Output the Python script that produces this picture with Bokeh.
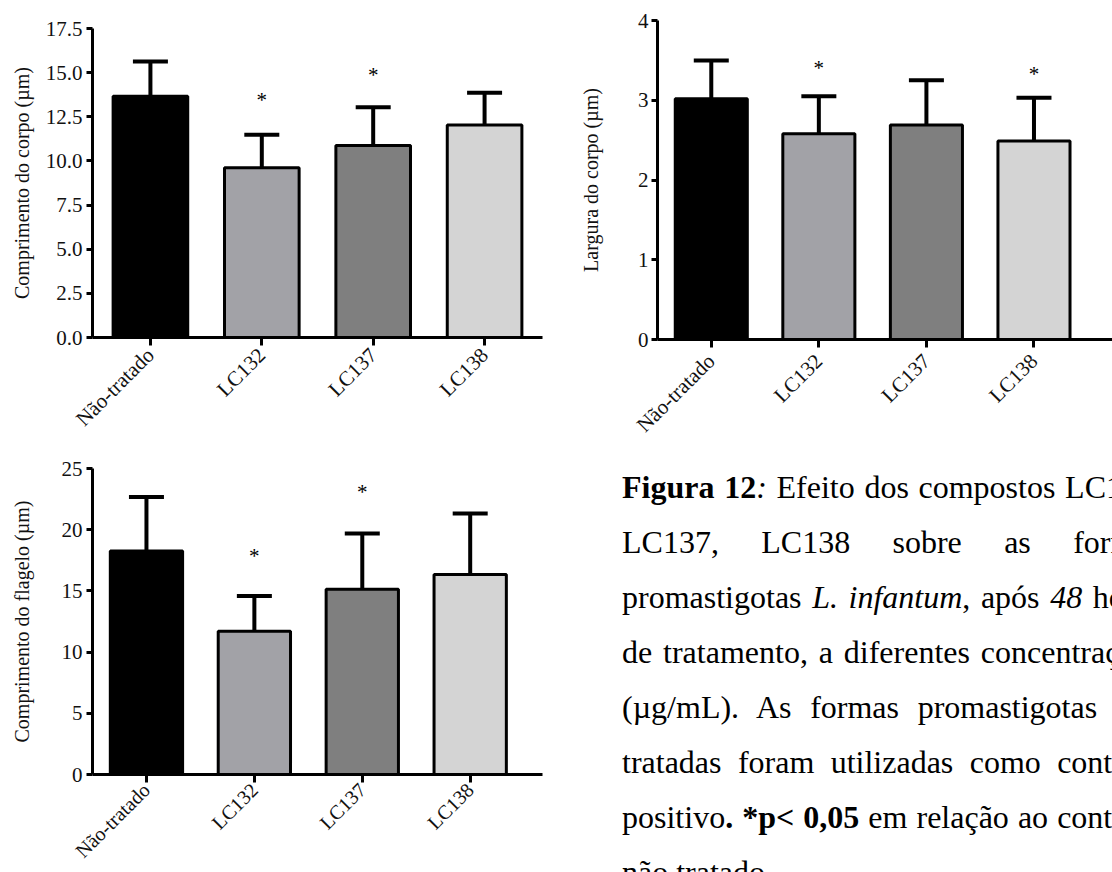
import math
from bokeh.plotting import figure
from bokeh.models import (ColumnDataSource, Range1d, FixedTicker, Whisker, TeeHead,
                          Div, NumeralTickFormatter)
from bokeh.layouts import row, column
from bokeh.embed import file_html
from bokeh.resources import INLINE
from bokeh.core.properties import value

# ---------------- data ----------------
categories = ["Não-tratado", "LC132", "LC137", "LC138"]
bar_colors = ["#000000", "#a2a2a7", "#7f7f7f", "#d4d4d4"]

# Comprimento do corpo (µm)
corpo_mean = [13.66, 9.61, 10.87, 12.04]
corpo_sd = [1.97, 1.87, 2.17, 1.82]
corpo_sig = ["LC132", "LC137"]
corpo_sig_y = [13.7, 15.1]
corpo_ticks = [0, 2.5, 5, 7.5, 10, 12.5, 15, 17.5]

# Largura do corpo (µm)
largura_mean = [3.02, 2.58, 2.69, 2.49]
largura_sd = [0.48, 0.47, 0.56, 0.54]
largura_sig = ["LC132", "LC138"]
largura_sig_y = [3.46, 3.38]
largura_ticks = [0, 1, 2, 3, 4]

# Comprimento do flagelo (µm)
flagelo_mean = [18.27, 11.71, 15.14, 16.34]
flagelo_sd = [4.41, 2.88, 4.55, 4.98]
flagelo_sig = ["LC132", "LC137"]
flagelo_sig_y = [18.2, 23.4]
flagelo_ticks = [0, 5, 10, 15, 20, 25]

FONT = "Liberation Serif"


def make_chart(means, sds, sig_cats, sig_y, ticks, fmt, ylabel, x_start, x_end,
               width, height, bl, br, bt, bb, label_standoff, ylab_standoff,
               xlab_standoff, xlab_size):
    xs = [i + 0.5 for i in range(len(categories))]
    src = ColumnDataSource(dict(
        x=xs, mean=means, upper=[m + s for m, s in zip(means, sds)], color=bar_colors))
    p = figure(width=width, height=height, output_backend="svg", toolbar_location=None,
               x_range=Range1d(x_start, x_end), y_range=Range1d(0, ticks[-1]),
               min_border_left=bl, min_border_right=br, min_border_top=bt,
               min_border_bottom=bb)
    p.outline_line_color = None
    p.xgrid.visible = False
    p.ygrid.visible = False
    p.background_fill_color = "white"
    p.border_fill_color = "white"

    p.vbar(x="x", top="mean", bottom=0, width=0.67, fill_color="color",
           line_color="black", line_width=3, source=src)
    wh = Whisker(base="x", lower="mean", upper="upper", source=src,
                 line_color="black", line_width=4, lower_head=None,
                 upper_head=TeeHead(size=35, line_color="black", line_width=4))
    p.add_layout(wh)

    sx = [categories.index(c) + 0.5 for c in sig_cats]
    p.text(x=sx, y=sig_y, text=["*"] * len(sx), text_font=value(FONT),
           text_font_size="21px", text_align="center", text_baseline="middle",
           text_color="black", y_offset=4)

    for ax in (p.xaxis[0], p.yaxis[0]):
        ax.axis_line_width = 3
        ax.axis_line_color = "black"
        ax.major_tick_line_width = 3
        ax.major_tick_line_color = "black"
        ax.major_tick_in = 0
        ax.minor_tick_line_color = None
        ax.major_label_text_font = FONT
        ax.major_label_text_color = "#111111"

    xa = p.xaxis[0]
    xa.ticker = FixedTicker(ticks=xs)
    xa.major_label_overrides = {x: c for x, c in zip(xs, categories)}
    xa.major_label_orientation = math.pi / 4
    xa.major_tick_out = 8
    xa.major_label_standoff = xlab_standoff
    xa.major_label_text_font_size = xlab_size

    ya = p.yaxis[0]
    ya.ticker = FixedTicker(ticks=ticks)
    ya.formatter = NumeralTickFormatter(format=fmt)
    ya.major_tick_out = 6
    ya.major_label_standoff = label_standoff
    ya.major_label_text_font_size = "21px"
    ya.axis_label = ylabel
    ya.axis_label_text_font = FONT
    ya.axis_label_text_font_style = "normal"
    ya.axis_label_text_font_size = "20px"
    ya.axis_label_text_color = "#111111"
    ya.axis_label_standoff = ylab_standoff
    return p


f1 = make_chart(corpo_mean, corpo_sd, corpo_sig, corpo_sig_y, corpo_ticks, "0.0",
                "Comprimento do corpo (µm)", -0.02, 4.02,
                553, 448, 92, 10, 28, 111, 4, 10, 6, "21px")
f3 = make_chart(flagelo_mean, flagelo_sd, flagelo_sig, flagelo_sig_y, flagelo_ticks, "0",
                "Comprimento do flagelo (µm)", 0, 4.17,
                553, 424, 87, 11, 20, 98, 4, 26, 4, "20px")
f2 = make_chart(largura_mean, largura_sd, largura_sig, largura_sig_y, largura_ticks, "0",
                "Largura do corpo (µm)", 0, 4.23,
                559, 448, 104, 0, 20, 107, 3, 33, 10, "21px")

caption_lines = [
    "<b>Figura 12</b><i>:</i> Efeito dos compostos LC132,",
    "LC137, LC138 sobre as formas",
    "promastigotas <i>L. infantum</i>, após <i>48</i> horas",
    "de tratamento, a diferentes concentrações",
    "(µg/mL). As formas promastigotas não",
    "tratadas foram utilizadas como controle",
    "positivo<b>. *p&lt; 0,05</b> em relação ao controle",
]
caption_last = "não tratado."

line_html = "".join(
    '<div style="text-align:justify;text-align-last:justify;white-space:nowrap;">%s</div>' % l
    for l in caption_lines)
line_html += '<div style="text-align:left;white-space:nowrap;">%s</div>' % caption_last
caption_html = (
    '<div style="margin-left:64px;padding-top:7px;width:540px;'
    "font-family:'Liberation Serif';font-size:32px;line-height:55px;color:#000;\">"
    + line_html + "</div>")

cap = Div(text=caption_html, width=559, height=424,
          styles={"overflow": "hidden"})

layout = row(column(f1, f3), column(f2, cap))

open("out.html", "w").write(file_html(layout, INLINE))
